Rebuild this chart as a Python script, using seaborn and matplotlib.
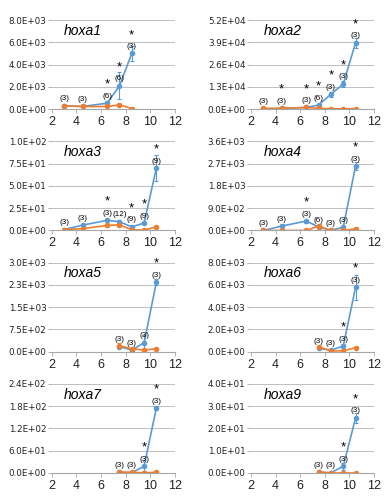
import matplotlib
matplotlib.use("Agg")
import matplotlib.pyplot as plt
import seaborn as sns

# ------------------------------------------
# data
# ------------------------------------------
x_full = [3, 4.5, 6.5, 7.5, 8.5, 9.5, 10.5]
x_late = [7.5, 8.5, 9.5, 10.5]

genes = ["hoxa1", "hoxa2", "hoxa3", "hoxa4", "hoxa5", "hoxa6", "hoxa7", "hoxa9"]

x_values = {
    "hoxa1": [3, 4.5, 6.5, 7.5, 8.5],
    "hoxa2": x_full,
    "hoxa3": x_full,
    "hoxa4": x_full,
    "hoxa5": x_late,
    "hoxa6": x_late,
    "hoxa7": x_late,
    "hoxa9": x_late,
}

blue_values = {
    "hoxa1": [300, 240, 540, 2100, 5000],
    "hoxa2": [200, 500, 1000, 2400, 8800, 14700, 38700],
    "hoxa3": [1, 6, 11.3, 9.8, 4, 8.3, 70],
    "hoxa4": [0, 177, 380, 136, 0, 136, 2600],
    "hoxa5": [170, 56, 300, 2340],
    "hoxa6": [300, 150, 500, 5780],
    "hoxa7": [2, 1, 18, 175],
    "hoxa9": [0.3, 0.15, 3.0, 24.7],
}
blue_err = {
    "hoxa1": [50, 50, 150, 1200, 650],
    "hoxa2": [50, 100, 300, 800, 1500, 2000, 3000],
    "hoxa3": [0.5, 1, 1.5, 1.5, 1, 1.5, 15],
    "hoxa4": [5, 100, 60, 40, 5, 60, 150],
    "hoxa5": [40, 20, 250, 100],
    "hoxa6": [50, 30, 150, 1100],
    "hoxa7": [0.5, 0.3, 13, 5],
    "hoxa9": [0.1, 0.05, 1.5, 2.2],
}

orange_values = {
    "hoxa1": [300, 240, 240, 390, 60],
    "hoxa2": [400, 500, 1000, 500, 200, 200, 300],
    "hoxa3": [1, 2, 5.6, 6.4, 0.7, 0.4, 4],
    "hoxa4": [0, 0, 0, 177, 0, 0, 70],
    "hoxa5": [200, 100, 56, 100],
    "hoxa6": [450, 60, 90, 360],
    "hoxa7": [2, 2, 0.5, 2],
    "hoxa9": [0.45, 0, 0, 0],
}
orange_err = {
    "hoxa1": [50, 30, 30, 80, 20],
    "hoxa2": [100, 100, 200, 100, 50, 50, 50],
    "hoxa3": [0.3, 0.5, 2, 1, 0.3, 0.2, 1],
    "hoxa4": [5, 5, 5, 100, 5, 5, 20],
    "hoxa5": [80, 30, 30, 40],
    "hoxa6": [50, 20, 30, 60],
    "hoxa7": [0.5, 0.5, 0.2, 0.5],
    "hoxa9": [0.1, 0, 0, 0],
}

n_labels = {
    "hoxa1": ["(3)", "(3)", "(6)", "(6)", "(3)"],
    "hoxa2": ["(3)", "(3)", "(3)", "(6)", "(3)", "(3)", "(3)"],
    "hoxa3": ["(3)", "(3)", "(3)", "(12)", "(9)", "(9)", "(9)"],
    "hoxa4": ["(3)", "(3)", "(3)", "(6)", "(3)", "(3)", "(3)"],
    "hoxa5": ["(3)", "(3)", "(3)", "(3)"],
    "hoxa6": ["(3)", "(3)", "(3)", "(3)"],
    "hoxa7": ["(3)", "(3)", "(3)", "(3)"],
    "hoxa9": ["(3)", "(3)", "(3)", "(3)"],
}
stars = {
    "hoxa1": [0, 0, 1, 1, 1],
    "hoxa2": [0, 1, 1, 1, 1, 1, 1],
    "hoxa3": [0, 0, 1, 0, 1, 1, 1],
    "hoxa4": [0, 0, 1, 0, 0, 0, 1],
    "hoxa5": [0, 0, 0, 1],
    "hoxa6": [0, 0, 1, 1],
    "hoxa7": [0, 0, 1, 1],
    "hoxa9": [0, 0, 1, 1],
}

y_ticks = {
    "hoxa1": [0, 2000, 4000, 6000, 8000],
    "hoxa2": [0, 13000, 26000, 39000, 52000],
    "hoxa3": [0, 25, 50, 75, 100],
    "hoxa4": [0, 900, 1800, 2700, 3600],
    "hoxa5": [0, 750, 1500, 2250, 3000],
    "hoxa6": [0, 2000, 4000, 6000, 8000],
    "hoxa7": [0, 60, 120, 180, 240],
    "hoxa9": [0, 10, 20, 30, 40],
}
y_tick_labels = {
    "hoxa1": ["0.0E+00", "2.0E+03", "4.0E+03", "6.0E+03", "8.0E+03"],
    "hoxa2": ["0.0E+00", "1.3E+04", "2.6E+04", "3.9E+04", "5.2E+04"],
    "hoxa3": ["0.0E+00", "2.5E+01", "5.0E+01", "7.5E+01", "1.0E+02"],
    "hoxa4": ["0.0E+00", "9.0E+02", "1.8E+03", "2.7E+03", "3.6E+03"],
    "hoxa5": ["0.0E+00", "7.5E+02", "1.5E+03", "2.3E+03", "3.0E+03"],
    "hoxa6": ["0.0E+00", "2.0E+03", "4.0E+03", "6.0E+03", "8.0E+03"],
    "hoxa7": ["0.0E+00", "6.0E+01", "1.2E+02", "1.8E+02", "2.4E+02"],
    "hoxa9": ["0.0E+00", "1.0E+01", "2.0E+01", "3.0E+01", "4.0E+01"],
}

x_ticks = [2, 4, 6, 8, 10, 12]

BLUE = "#5B9BD5"
ORANGE = "#ED7D31"

sns.set_style("white")
plt.rcParams["font.family"] = ["Liberation Sans", "DejaVu Sans"]

fig, axes = plt.subplots(4, 2, figsize=(3.9, 5.0), dpi=100)
plt.subplots_adjust(left=0.133, right=0.959, top=0.96, bottom=0.054,
                    wspace=0.62, hspace=0.36)

for ax, gene in zip(axes.flat, genes):
    xs = x_values[gene]

    # blue series first, orange on top
    sns.lineplot(x=xs, y=blue_values[gene], ax=ax, color=BLUE,
                 marker="o", markersize=4, markeredgewidth=0, linewidth=1.2)
    ax.errorbar(xs, blue_values[gene], yerr=blue_err[gene], fmt="none",
                ecolor=BLUE, elinewidth=0.8, capsize=1.5, capthick=0.8)

    sns.lineplot(x=xs, y=orange_values[gene], ax=ax, color=ORANGE,
                 marker="o", markersize=4, markeredgewidth=0, linewidth=1.2)
    ax.errorbar(xs, orange_values[gene], yerr=orange_err[gene], fmt="none",
                ecolor=ORANGE, elinewidth=0.8, capsize=1.5, capthick=0.8)

    # sample size labels and significance stars
    for x, y, lab, s in zip(xs, blue_values[gene], n_labels[gene], stars[gene]):
        ax.annotate(lab, xy=(x, y), xytext=(0, 2.5), textcoords="offset points",
                    ha="center", va="bottom", fontsize=5.8, color="black")
        if s:
            ax.annotate("*", xy=(x, y), xytext=(0, 9), textcoords="offset points",
                        ha="center", va="bottom", fontsize=9.5, color="black")

    ax.text(0.1, 0.88, gene, transform=ax.transAxes, fontsize=10,
            fontstyle="italic", ha="left", va="center", color="black")

    ax.set_xlim(2, 12)
    ax.set_xticks(x_ticks)
    ax.set_ylim(y_ticks[gene][0], y_ticks[gene][-1])
    ax.set_yticks(y_ticks[gene])
    ax.set_yticklabels(y_tick_labels[gene], family=["DejaVu Sans"])
    ax.grid(axis="y", color="#BFBFBF", linewidth=0.7)
    ax.set_axisbelow(True)

    for side in ["top", "right", "left"]:
        ax.spines[side].set_visible(False)
    ax.spines["bottom"].set_color("#A6A6A6")
    ax.spines["bottom"].set_linewidth(0.8)
    ax.tick_params(axis="x", labelsize=9, length=3, width=0.6,
                   color="#A6A6A6", labelcolor="#222222", pad=2, bottom=True)
    ax.tick_params(axis="y", labelsize=6.3, length=3, width=0.6,
                   color="#A6A6A6", labelcolor="#222222", pad=1, left=True)

fig.savefig("out.png", dpi=100)
